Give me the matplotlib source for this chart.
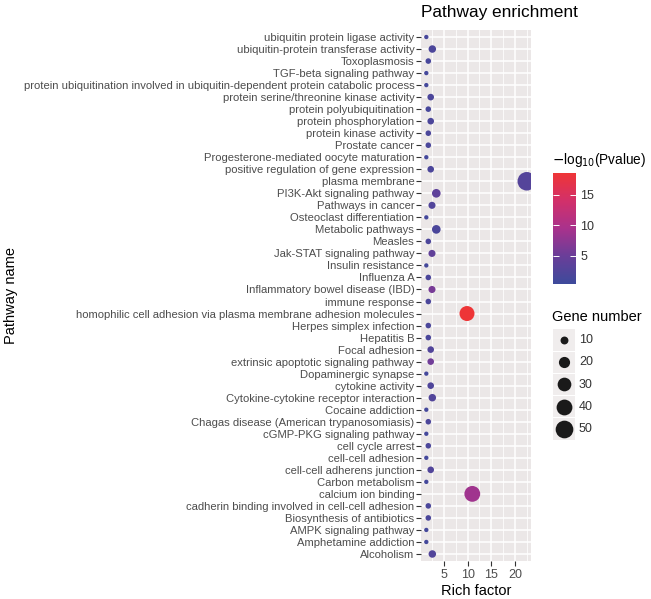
#!/usr/bin/env python3
"""Pathway enrichment bubble chart (ggplot-like look) -> out.png"""

import matplotlib
matplotlib.use("Agg")
import matplotlib.pyplot as plt
from matplotlib.colors import LinearSegmentedColormap, Normalize
from matplotlib.patches import Rectangle

plt.rcParams["font.family"] = ["Liberation Sans", "DejaVu Sans"]

# top -> bottom, as shown on the y axis
PATHWAYS = [
    "ubiquitin protein ligase activity",
    "ubiquitin-protein transferase activity",
    "Toxoplasmosis",
    "TGF-beta signaling pathway",
    "protein ubiquitination involved in ubiquitin-dependent protein catabolic process",
    "protein serine/threonine kinase activity",
    "protein polyubiquitination",
    "protein phosphorylation",
    "protein kinase activity",
    "Prostate cancer",
    "Progesterone-mediated oocyte maturation",
    "positive regulation of gene expression",
    "plasma membrane",
    "PI3K-Akt signaling pathway",
    "Pathways in cancer",
    "Osteoclast differentiation",
    "Metabolic pathways",
    "Measles",
    "Jak-STAT signaling pathway",
    "Insulin resistance",
    "Influenza A",
    "Inflammatory bowel disease (IBD)",
    "immune response",
    "homophilic cell adhesion via plasma membrane adhesion molecules",
    "Herpes simplex infection",
    "Hepatitis B",
    "Focal adhesion",
    "extrinsic apoptotic signaling pathway",
    "Dopaminergic synapse",
    "cytokine activity",
    "Cytokine-cytokine receptor interaction",
    "Cocaine addiction",
    "Chagas disease (American trypanosomiasis)",
    "cGMP-PKG signaling pathway",
    "cell cycle arrest",
    "cell-cell adhesion",
    "cell-cell adherens junction",
    "Carbon metabolism",
    "calcium ion binding",
    "cadherin binding involved in cell-cell adhesion",
    "Biosynthesis of antibiotics",
    "AMPK signaling pathway",
    "Amphetamine addiction",
    "Alcoholism",
]
RICH_FACTOR = [
    1.26, 2.53, 1.68, 1.26, 1.26, 2.19, 1.68, 2.19, 1.68, 1.68, 1.26, 2.19,
    22.5, 3.37, 2.46, 1.26, 3.37, 1.68, 2.46, 1.26, 1.68, 2.46, 1.68, 9.86,
    1.68, 1.68, 2.19, 2.19, 1.26, 2.19, 2.53, 1.26, 1.68, 1.26, 1.68, 1.26,
    2.19, 1.26, 10.98, 1.68, 1.68, 1.26, 1.26, 2.53,
]
GENE_NUMBER = [
    3, 9, 5, 3, 3, 7, 5, 7, 5, 5, 3, 7,
    55, 12, 8, 3, 12, 5, 8, 3, 5, 8, 5, 36,
    5, 5, 7, 7, 3, 7, 9, 3, 5, 3, 5, 3,
    7, 3, 40, 5, 5, 3, 3, 9,
]
NEG_LOG10_P = [
    1.5, 2.0, 1.5, 1.2, 1.2, 2.0, 1.5, 2.0, 1.8, 1.8, 1.2, 2.0,
    2.8, 3.8, 2.5, 1.2, 1.8, 2.0, 4.0, 1.2, 2.0, 6.0, 1.8, 18.5,
    1.8, 1.8, 2.5, 5.5, 1.2, 2.2, 2.5, 1.2, 2.0, 1.2, 2.0, 1.2,
    2.5, 1.2, 8.8, 1.8, 1.8, 1.2, 1.2, 2.5,
]
P_MIN, P_MAX = 0.45, 18.5
X_TICKS = [5, 10, 15, 20]
CBAR_TICKS = [5, 10, 15]
SIZE_BREAKS = [10, 20, 30, 40, 50]

W, H = 651, 599
SIZE_K = 3.24  # marker area (pt^2) per gene

cmap = LinearSegmentedColormap.from_list(
    "pv", ["#3E4A9B", "#6A3E99", "#A9328C", "#D2306A", "#EE3537"])
norm = Normalize(P_MIN, P_MAX)
GREY_TXT = "#4D4D4D"


def fx(px):
    return px / W


def fy(py):
    return 1 - py / H


fig = plt.figure(figsize=(W / 100, H / 100), dpi=100)

# --- main panel ---
pl, pr, pt, pb = 421.3, 531.0, 29.8, 561.2
ax = fig.add_axes([fx(pl), fy(pb), fx(pr - pl), (pb - pt) / H])
ax.set_facecolor("#EBE7E7")
ypos = list(range(len(PATHWAYS)))
ax.scatter(RICH_FACTOR, ypos, s=[SIZE_K * g for g in GENE_NUMBER],
           c=NEG_LOG10_P, cmap=cmap, norm=norm, linewidths=0, zorder=3)
ax.set_xlim(0.2, 23.39)
ax.set_ylim(len(PATHWAYS) - 0.4, -0.6)
ax.set_xticks(X_TICKS)
ax.set_xticks([2.5, 7.5, 12.5, 17.5, 22.5], minor=True)
ax.set_yticks(ypos)
ax.set_yticklabels(PATHWAYS)
ax.grid(True, which="major", color="white", lw=1.1, zorder=0)
ax.grid(True, which="minor", axis="x", color="white", lw=0.55, zorder=0)
ax.set_axisbelow(True)
for s in ax.spines.values():
    s.set_visible(False)
ax.tick_params(axis="both", which="major", length=3.5, width=0.8, color="#333333",
               labelcolor=GREY_TXT, pad=1.5)
ax.tick_params(axis="y", labelsize=8.1)
ax.tick_params(axis="x", labelsize=9, pad=2)
ax.tick_params(axis="x", which="minor", length=0)
ax.set_xlabel("Rich factor", fontsize=10.5, labelpad=2)
fig.text(fx(11), fy(296), "Pathway name", fontsize=10.5, rotation=90,
         ha="center", va="center")
fig.text(fx(421), fy(13), "Pathway enrichment", fontsize=12.4, ha="left", va="center")

# --- colour bar legend ---
cb_l, cb_r, cb_t, cb_b = 553.0, 576.0, 173.3, 283.5
cax = fig.add_axes([fx(cb_l), fy(cb_b), fx(cb_r - cb_l), (cb_b - cb_t) / H])
cb = fig.colorbar(plt.cm.ScalarMappable(norm=norm, cmap=cmap), cax=cax)
cb.outline.set_visible(False)
cb.set_ticks(CBAR_TICKS)
cax.tick_params(length=4, width=0.7, color="white", direction="in",
                labelsize=9, labelcolor="#333333", pad=3, right=True, left=True)
fig.text(fx(552), fy(160), r"$-$log$_{10}$(Pvalue)", fontsize=9.8,
         ha="left", va="center")

# --- size legend ---
key = 22.2
lg_t = 329.0
lax = fig.add_axes([fx(553), fy(lg_t + key * len(SIZE_BREAKS)), fx(22),
                    key * len(SIZE_BREAKS) / H])
lax.set_xlim(0, 1)
lax.set_ylim(len(SIZE_BREAKS), 0)
lax.axis("off")
for i, g in enumerate(SIZE_BREAKS):
    lax.add_patch(Rectangle((0, i + 0.02), 1, 0.96, color="#F0EDED", lw=0))
    lax.scatter([0.5], [i + 0.5], s=SIZE_K * g, color="#1A1A1A", linewidths=0)
    fig.text(fx(579), fy(lg_t + key * (i + 0.5)), str(g), fontsize=9,
             color="#333333", ha="left", va="center")
fig.text(fx(552), fy(317), "Gene number", fontsize=10.5, ha="left", va="center")

fig.savefig("out.png", dpi=100)
